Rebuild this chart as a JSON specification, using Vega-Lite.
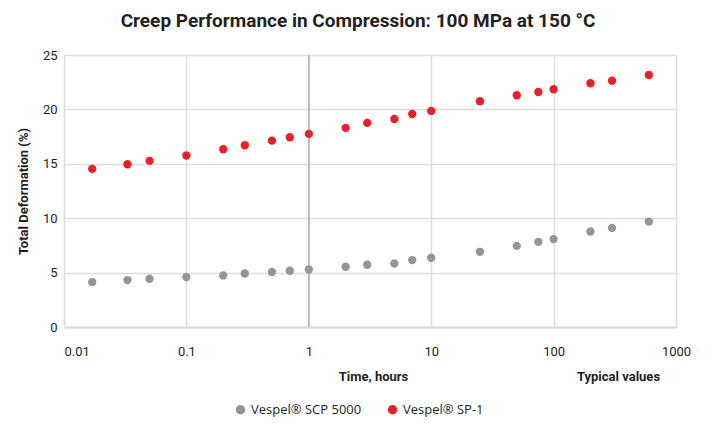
{
  "$schema": "https://vega.github.io/schema/vega-lite/v6.json",
  "autosize": {"type": "none"},
  "width": 612,
  "height": 272,
  "padding": {"left": 64, "top": 55, "right": 36, "bottom": 98},
  "background": "white",
  "config": {
    "font": "Roboto",
    "view": {"stroke": null},
    "axis": {"labelColor": "#231f20", "titleColor": "#231f20", "labelFont": "Roboto", "titleFont": "Roboto"}
  },
  "title": {
    "text": "Creep Performance in Compression: 100 MPa at 150 °C",
    "fontSize": 19,
    "fontWeight": "bold",
    "color": "#231f20",
    "anchor": "middle",
    "dx": -12,
    "offset": 18
  },
  "data": {
    "values": [
      {"time": 0.017, "def": 14.53, "material": "Vespel® SP-1"},
      {"time": 0.033, "def": 14.96, "material": "Vespel® SP-1"},
      {"time": 0.05, "def": 15.27, "material": "Vespel® SP-1"},
      {"time": 0.1, "def": 15.76, "material": "Vespel® SP-1"},
      {"time": 0.2, "def": 16.34, "material": "Vespel® SP-1"},
      {"time": 0.3, "def": 16.71, "material": "Vespel® SP-1"},
      {"time": 0.5, "def": 17.13, "material": "Vespel® SP-1"},
      {"time": 0.7, "def": 17.44, "material": "Vespel® SP-1"},
      {"time": 1, "def": 17.75, "material": "Vespel® SP-1"},
      {"time": 2, "def": 18.3, "material": "Vespel® SP-1"},
      {"time": 3, "def": 18.76, "material": "Vespel® SP-1"},
      {"time": 5, "def": 19.12, "material": "Vespel® SP-1"},
      {"time": 7, "def": 19.58, "material": "Vespel® SP-1"},
      {"time": 10, "def": 19.86, "material": "Vespel® SP-1"},
      {"time": 25, "def": 20.75, "material": "Vespel® SP-1"},
      {"time": 50, "def": 21.3, "material": "Vespel® SP-1"},
      {"time": 75, "def": 21.6, "material": "Vespel® SP-1"},
      {"time": 100, "def": 21.85, "material": "Vespel® SP-1"},
      {"time": 200, "def": 22.4, "material": "Vespel® SP-1"},
      {"time": 300, "def": 22.64, "material": "Vespel® SP-1"},
      {"time": 600, "def": 23.16, "material": "Vespel® SP-1"},
      {"time": 0.017, "def": 4.13, "material": "Vespel® SCP 5000"},
      {"time": 0.033, "def": 4.31, "material": "Vespel® SCP 5000"},
      {"time": 0.05, "def": 4.43, "material": "Vespel® SCP 5000"},
      {"time": 0.1, "def": 4.59, "material": "Vespel® SCP 5000"},
      {"time": 0.2, "def": 4.74, "material": "Vespel® SCP 5000"},
      {"time": 0.3, "def": 4.92, "material": "Vespel® SCP 5000"},
      {"time": 0.5, "def": 5.05, "material": "Vespel® SCP 5000"},
      {"time": 0.7, "def": 5.17, "material": "Vespel® SCP 5000"},
      {"time": 1, "def": 5.29, "material": "Vespel® SCP 5000"},
      {"time": 2, "def": 5.54, "material": "Vespel® SCP 5000"},
      {"time": 3, "def": 5.72, "material": "Vespel® SCP 5000"},
      {"time": 5, "def": 5.84, "material": "Vespel® SCP 5000"},
      {"time": 7, "def": 6.15, "material": "Vespel® SCP 5000"},
      {"time": 10, "def": 6.36, "material": "Vespel® SCP 5000"},
      {"time": 25, "def": 6.91, "material": "Vespel® SCP 5000"},
      {"time": 50, "def": 7.46, "material": "Vespel® SCP 5000"},
      {"time": 75, "def": 7.83, "material": "Vespel® SCP 5000"},
      {"time": 100, "def": 8.08, "material": "Vespel® SCP 5000"},
      {"time": 200, "def": 8.78, "material": "Vespel® SCP 5000"},
      {"time": 300, "def": 9.11, "material": "Vespel® SCP 5000"},
      {"time": 600, "def": 9.69, "material": "Vespel® SCP 5000"}
    ]
  },
  "resolve": {"axis": {"x": "independent"}},
  "layer": [
    {
      "mark": {"type": "rule", "color": "#b3b3b3", "strokeWidth": 1.5},
      "data": {"values": [{"t": 1}]},
      "encoding": {
        "x": {"field": "t", "type": "quantitative", "scale": {"type": "log", "domain": [0.01, 1000]}, "axis": null}
      }
    },
    {
      "mark": {"type": "circle", "size": 70, "opacity": 1},
      "encoding": {
        "x": {
          "field": "time",
          "type": "quantitative",
          "scale": {"type": "log", "domain": [0.01, 1000]},
          "axis": {
            "orient": "bottom",
            "values": [0.01, 0.1, 1, 10, 100, 1000],
            "labelExpr": "format(datum.value, '~g')",
            "labelFlush": false,
            "labelAlign": {"expr": "datum.value == 0.01 ? 'left' : 'center'"},
            "title": "Time, hours",
            "titleFontSize": 13,
            "titleFontWeight": "bold",
            "titleX": 309,
            "titleY": 49,
            "titleBaseline": "middle",
            "labelFontSize": 13,
            "labelPadding": 18,
            "ticks": false,
            "domainColor": "#d9d9d9",
            "domainWidth": 2,
            "grid": true,
            "gridColor": "#dddddd",
            "gridWidth": 1.5
          }
        },
        "y": {
          "field": "def",
          "type": "quantitative",
          "scale": {"domain": [0, 25]},
          "axis": {
            "values": [0, 5, 10, 15, 20, 25],
            "title": "Total Deformation (%)",
            "titleFontSize": 13,
            "titleFontWeight": "bold",
            "titlePadding": 12,
            "labelFontSize": 13,
            "labelPadding": 7,
            "ticks": false,
            "domain": false,
            "grid": true,
            "gridColor": "#dddddd",
            "gridWidth": 1.5
          }
        },
        "color": {
          "field": "material",
          "type": "nominal",
          "scale": {"domain": ["Vespel® SCP 5000", "Vespel® SP-1"], "range": ["#939598", "#e8202a"]},
          "legend": {
            "title": null,
            "orient": "none",
            "direction": "horizontal",
            "legendX": 170,
            "legendY": 348,
            "symbolType": "circle",
            "symbolSize": 90,
            "symbolOpacity": 1,
            "labelFont": "Open Sans",
            "labelFontSize": 13,
            "labelColor": "#231f20",
            "columnPadding": 24
          }
        }
      }
    },
    {
      "mark": {"type": "point", "opacity": 0},
      "data": {"values": [{"t": 1}]},
      "encoding": {
        "x": {
          "field": "t",
          "type": "quantitative",
          "scale": {"type": "log", "domain": [0.01, 1000]},
          "axis": {
            "orient": "bottom",
            "title": "Typical values",
            "titleFontSize": 13,
            "titleFontWeight": "bold",
            "titleX": 554,
            "titleY": 49,
            "titleBaseline": "middle",
            "labels": false,
            "ticks": false,
            "domain": false,
            "grid": false
          }
        }
      }
    }
  ]
}
